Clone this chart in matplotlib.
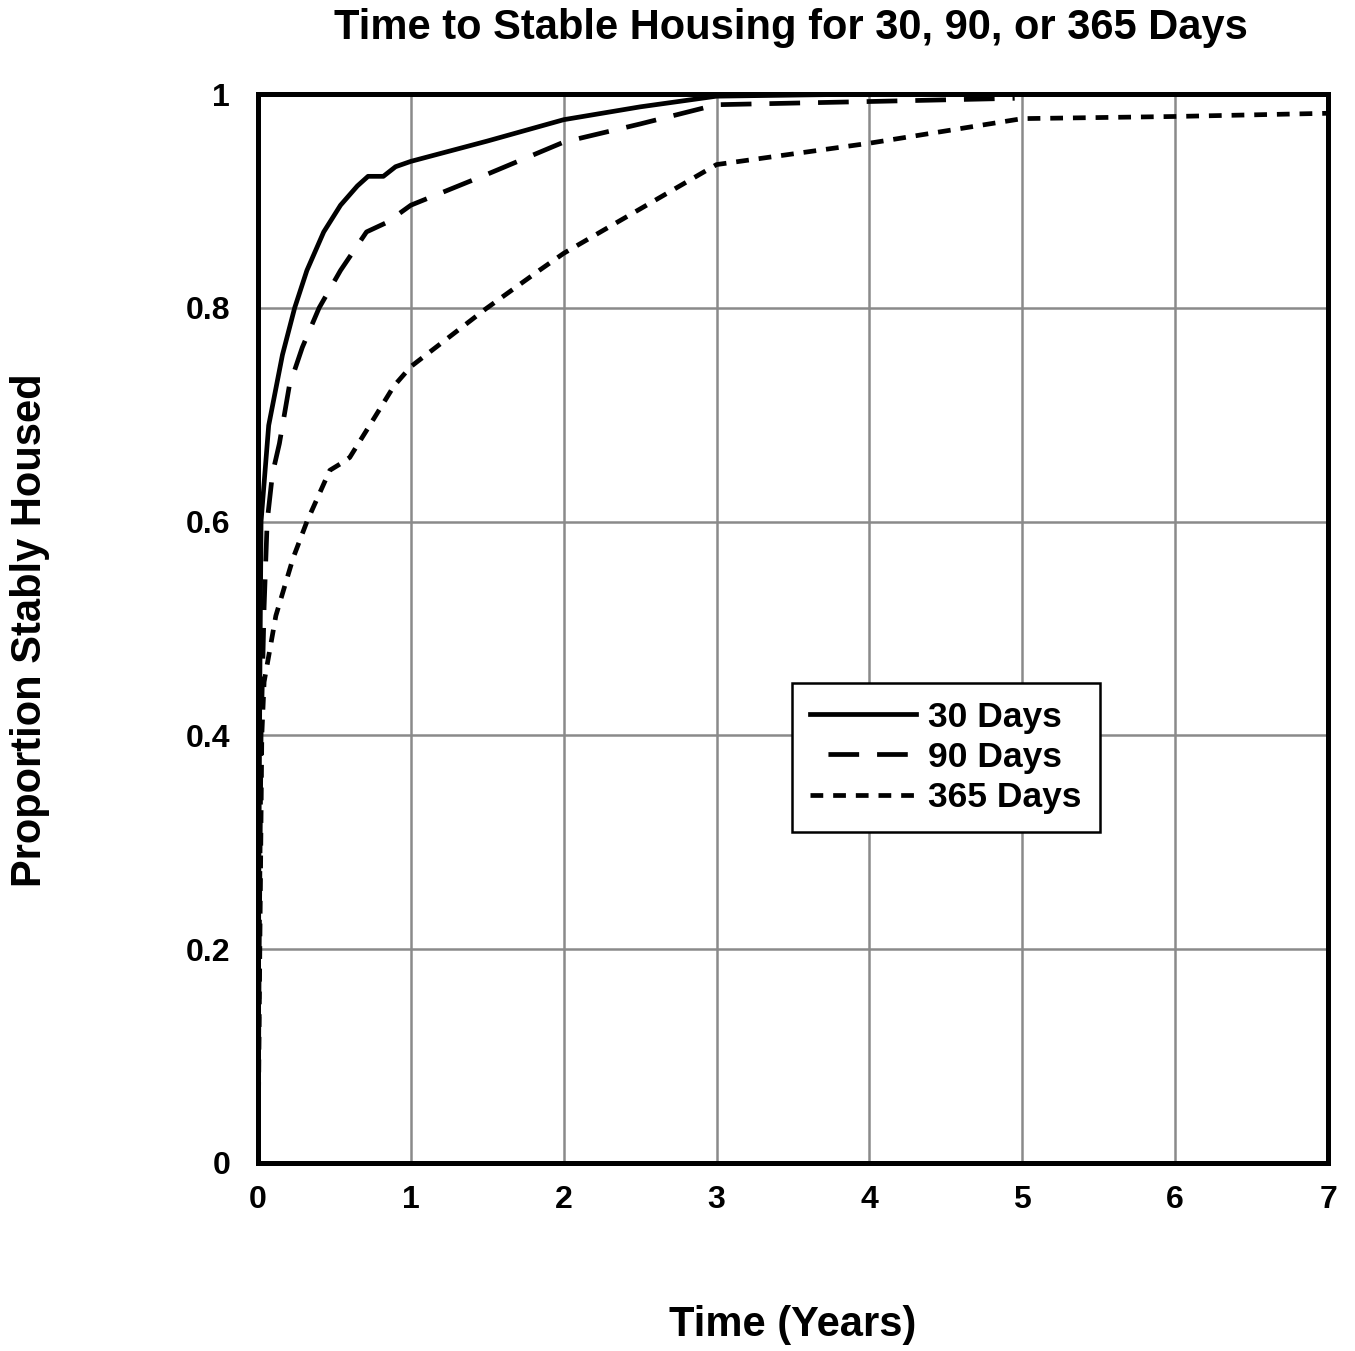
import matplotlib
matplotlib.use("Agg")
import matplotlib.pyplot as plt

# time in years, proportion stably housed
t_30 = [0, 0.005, 0.012, 0.02, 0.07, 0.16, 0.24, 0.32, 0.43, 0.54, 0.65, 0.72, 0.82,
        0.90, 1.0, 1.5, 2.0, 2.5, 3.0, 4.0, 5.0]
p_30 = [0, 0.25, 0.45, 0.60, 0.69, 0.756, 0.80, 0.835, 0.871, 0.896, 0.914, 0.923, 0.923,
        0.932, 0.937, 0.956, 0.976, 0.988, 0.998, 1.0, 1.0]

t_90 = [0, 0.008, 0.02, 0.04, 0.06, 0.095, 0.14, 0.205, 0.29, 0.40, 0.54, 0.71, 0.845,
        1.0, 1.5, 2.0, 2.5, 3.0, 4.0, 4.95]
p_90 = [0, 0.2, 0.40, 0.52, 0.60, 0.645, 0.673, 0.727, 0.763, 0.80, 0.835, 0.871, 0.88,
        0.896, 0.925, 0.955, 0.972, 0.99, 0.993, 0.996]

t_365 = [0, 0.006, 0.012, 0.025, 0.04, 0.117, 0.23, 0.32, 0.47, 0.55, 0.60, 0.735, 0.89,
         1.0, 1.49, 1.84, 2.0, 3.0, 4.0, 5.0, 6.0, 7.0]
p_365 = [0, 0.10, 0.20, 0.40, 0.45, 0.512, 0.566, 0.60, 0.648, 0.655, 0.66, 0.691, 0.727,
         0.745, 0.799, 0.835, 0.851, 0.934, 0.954, 0.977, 0.979, 0.982]

labels = ["30 Days", "90 Days", "365 Days"]
x_ticks = [0, 1, 2, 3, 4, 5, 6, 7]
y_ticks = [0, 0.2, 0.4, 0.6, 0.8, 1.0]
y_ticklabels = ["0", "0.2", "0.4", "0.6", "0.8", "1"]

plt.rcParams["font.family"] = ["Liberation Sans", "DejaVu Sans"]
plt.rcParams["font.weight"] = "bold"

fig = plt.figure(figsize=(13.55, 13.51), dpi=100)
ax = fig.add_axes([0.1904, 0.1392, 0.7897, 0.7912])

lw = 3.4
ax.plot(t_30, p_30, color="black", lw=lw, ls="-", label=labels[0], zorder=3)
ax.plot(t_90, p_90, color="black", lw=lw, ls=(6.5, (6.5, 3.8)), label=labels[1], zorder=3)
ax.plot(t_365, p_365, color="black", lw=lw, ls=(0, (2.7, 2.1)), label=labels[2], zorder=3)

ax.set_xlim(0, 7)
ax.set_ylim(0, 1)
ax.set_xticks(x_ticks)
ax.set_yticks(y_ticks)
ax.set_yticklabels(y_ticklabels)
ax.tick_params(axis="y", length=0, labelsize=23, pad=20)
ax.tick_params(axis="x", length=0, labelsize=23, pad=16)
for lab in ax.get_xticklabels() + ax.get_yticklabels():
    lab.set_fontweight("bold")
ax.grid(True, color="#8a8a8a", lw=1.8, zorder=1)
for s in ax.spines.values():
    s.set_linewidth(3.6)

fig.text(0.585, 0.0193, "Time (Years)", ha="center", va="center",
         fontsize=30, fontweight="bold")
fig.text(0.022, 0.5337, "Proportion Stably Housed", ha="center", va="center",
         rotation=90, fontsize=30, fontweight="bold")
fig.text(0.584, 0.9793, "Time to Stable Housing for 30, 90, or 365 Days",
         ha="center", va="center", fontsize=30, fontweight="bold")

leg = ax.legend(loc="upper left", bbox_to_anchor=(0.5845, 0.4944),
                bbox_transform=fig.transFigure, fontsize=25.5, frameon=True,
                fancybox=False, edgecolor="black", framealpha=1,
                handlelength=3.0, borderpad=0.5, labelspacing=0.2,
                handletextpad=0.35, borderaxespad=0)
leg.get_frame().set_linewidth(1.8)
for txt in leg.get_texts():
    txt.set_fontweight("bold")

fig.savefig("out.png", dpi=100)
